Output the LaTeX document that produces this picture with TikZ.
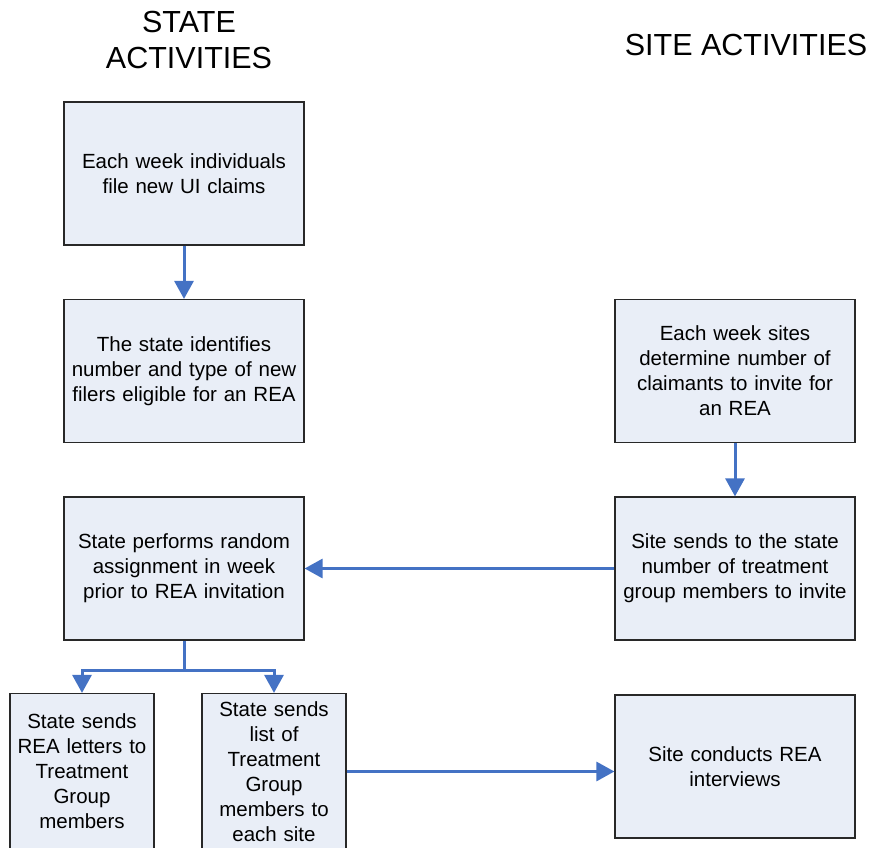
\documentclass[tikz,border=0pt]{standalone}
\usepackage{fontspec}
\setmainfont{Liberation Sans}
\usetikzlibrary{arrows.meta}
\definecolor{boxfill}{RGB}{233,238,247}
\definecolor{arrowblue}{RGB}{68,114,196}
\definecolor{boxline}{RGB}{40,40,40}
\tikzset{
  stepbox/.style={draw=boxline, line width=1.2pt, fill=boxfill, align=center, inner sep=2pt,
    font=\fontsize{20.5}{25}\selectfont},
  bigbox/.style={stepbox, minimum width=240pt, minimum height=143pt, text width=232pt},
  smallbox/.style={stepbox, minimum width=144pt, minimum height=156pt, text width=138pt},
  flowarrow/.style={draw=arrowblue, line width=3pt, -{Triangle[width=19pt,length=18pt]}},
  flowline/.style={draw=arrowblue, line width=3pt},
  title/.style={align=center, font=\fontsize{30.5}{36}\selectfont}
}
\begin{document}
\begin{tikzpicture}[x=1pt,y=-1pt]
\useasboundingbox (0,0) rectangle (878,848);
\begin{scope}
\clip (0,0) rectangle (878,848);
\node[title] (st) at (189,40) {STATE\\ACTIVITIES};
\node[title] (si) at (746,45) {SITE ACTIVITIES};
\node[bigbox] (b1) at (184,173.5) {Each week individuals\\file new UI claims};
\node[bigbox] (b2) at (184,371) {The state identifies\\number and type of new\\filers eligible for an REA};
\node[bigbox] (b3) at (184,568.5) {State performs random\\assignment in week\\prior to REA invitation};
\node[bigbox] (r1) at (735,371) {Each week sites\\determine number of\\claimants to invite for\\an REA};
\node[bigbox] (r2) at (735,568.5) {Site sends to the state\\number of treatment\\group members to invite};
\node[bigbox] (r3) at (735,766.5) {Site conducts REA\\interviews};
\node[smallbox] (bl) at (82,771.5) {State sends\\REA letters to\\Treatment\\Group\\members};
\node[smallbox] (bm) at (274,771.5) {State sends\\list of\\Treatment\\Group\\members to\\each site};
\coordinate (fork) at (184,670);
\draw[flowarrow] (b1) -- (b2);
\draw[flowarrow] (r1) -- (r2);
\draw[flowarrow] (r2) -- (b3);
\draw[flowline] (b3.south) -- (fork);
\draw[flowarrow] (fork) -| (bl.north);
\draw[flowarrow] (fork) -| (bm.north);
\draw[flowarrow] (bm.east) -- (bm.east -| r3.west);
\end{scope}
\end{tikzpicture}
\end{document}
